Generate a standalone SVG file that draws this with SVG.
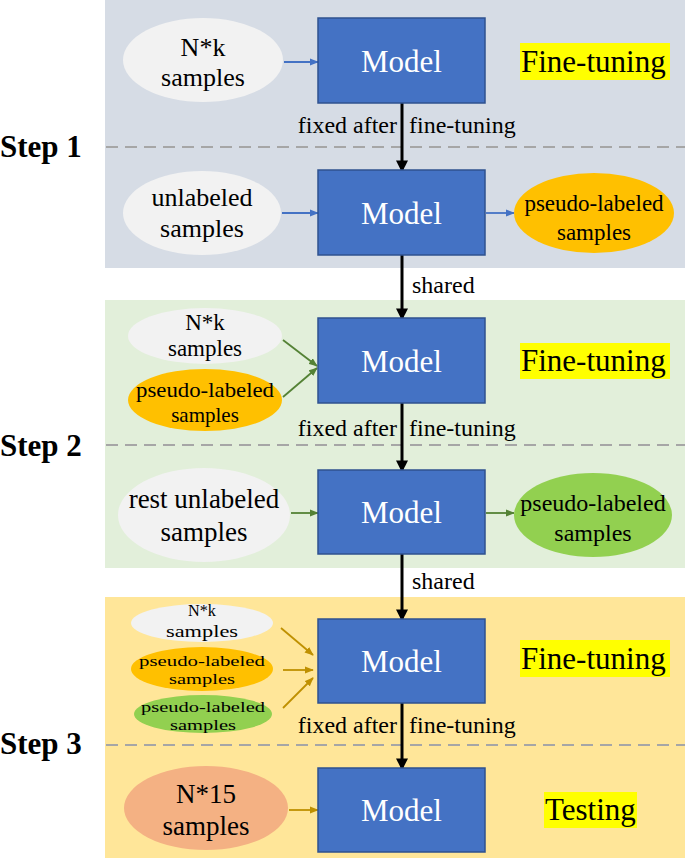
<svg xmlns="http://www.w3.org/2000/svg" width="685" height="859" viewBox="0 0 685 859">
<defs>
<style>
text{font-family:"Liberation Serif","Times New Roman",serif;}
.model{fill:#4472c4;stroke:#2f528f;stroke-width:1.5;}
.mt{fill:#fff;font-size:31px;text-anchor:middle;}
.et{fill:#000;text-anchor:middle;}
.hl{fill:#ffff00;}
.ht{font-size:31px;fill:#000;}
.step{font-size:31px;font-weight:bold;fill:#000;}
.dash{stroke:#a6a6a6;stroke-width:2;stroke-dasharray:12 7;}
.lbl{font-size:24px;fill:#000;}
.blk{stroke:#000;stroke-width:3;fill:none;marker-end:url(#ab);}
.blue{stroke:#4472c4;stroke-width:1.8;fill:none;marker-end:url(#abl);}
.grn{stroke:#548235;stroke-width:1.8;fill:none;marker-end:url(#agr);}
.gold{stroke:#bf9000;stroke-width:1.8;fill:none;marker-end:url(#ago);}
</style>
<marker id="ab" markerWidth="4" markerHeight="4" refX="3.2" refY="2" orient="auto" markerUnits="strokeWidth"><path d="M0,0 L4,2 L0,4 Z" fill="#000"/></marker>
<marker id="abl" markerWidth="5" markerHeight="4" refX="4.5" refY="2" orient="auto" markerUnits="strokeWidth"><path d="M0,0 L5,2 L0,4 Z" fill="#4472c4"/></marker>
<marker id="agr" markerWidth="5" markerHeight="4" refX="4.5" refY="2" orient="auto" markerUnits="strokeWidth"><path d="M0,0 L5,2 L0,4 Z" fill="#548235"/></marker>
<marker id="ago" markerWidth="5" markerHeight="4" refX="4.5" refY="2" orient="auto" markerUnits="strokeWidth"><path d="M0,0 L5,2 L0,4 Z" fill="#bf9000"/></marker>
</defs>
<rect width="685" height="859" fill="#fff"/>
<g id="panels">
<rect x="105" y="0" width="580" height="268" fill="#d6dce5"/>
<rect x="105" y="300" width="580" height="268" fill="#e2efda"/>
<rect x="105" y="597" width="580" height="261" fill="#ffe699"/>
</g>
<g id="dashes">
<line class="dash" x1="106" y1="147" x2="685" y2="147"/>
<line class="dash" x1="106" y1="445" x2="685" y2="445"/>
<line class="dash" x1="106" y1="745" x2="685" y2="745"/>
</g>
<g id="steps">
<text class="step" x="0" y="157">Step 1</text>
<text class="step" x="0" y="456">Step 2</text>
<text class="step" x="0" y="754">Step 3</text>
</g>
<g id="connectors">
<line class="blk" x1="402" y1="103" x2="402" y2="170"/>
<line class="blk" x1="402" y1="255" x2="402" y2="318"/>
<line class="blk" x1="402" y1="403" x2="402" y2="470"/>
<line class="blk" x1="402" y1="554" x2="402" y2="619"/>
<line class="blk" x1="402" y1="703" x2="402" y2="768"/>
<line class="blue" x1="284" y1="62" x2="318" y2="62"/>
<line class="blue" x1="282" y1="213" x2="318" y2="213"/>
<line class="blue" x1="486" y1="213" x2="514" y2="213"/>
<line class="grn" x1="283" y1="340" x2="317" y2="366"/>
<line class="grn" x1="283" y1="397" x2="317" y2="368"/>
<line class="grn" x1="291" y1="513" x2="318" y2="513"/>
<line class="grn" x1="486" y1="513" x2="514" y2="513"/>
<line class="gold" x1="281" y1="628" x2="313" y2="655"/>
<line class="gold" x1="283" y1="670" x2="313" y2="670"/>
<line class="gold" x1="283" y1="708" x2="313" y2="678"/>
<line class="gold" x1="289" y1="810" x2="318" y2="810"/>
</g>
<g id="connector-labels">
<text class="lbl" x="397" y="133" text-anchor="end">fixed after</text>
<text class="lbl" x="409" y="133">fine-tuning</text>
<text class="lbl" x="412" y="293">shared</text>
<text class="lbl" x="397" y="436" text-anchor="end">fixed after</text>
<text class="lbl" x="409" y="436">fine-tuning</text>
<text class="lbl" x="412" y="589">shared</text>
<text class="lbl" x="397" y="733" text-anchor="end">fixed after</text>
<text class="lbl" x="409" y="733">fine-tuning</text>
</g>
<g id="s1-nk"><ellipse cx="203" cy="60" rx="80" ry="42" fill="#f2f2f2"/><text class="et" x="203" y="56" font-size="26">N*k</text><text class="et" x="203" y="86" font-size="26">samples</text></g>
<g id="s1-model1"><rect class="model" x="318" y="18" width="167" height="85"/><text class="mt" x="401.5" y="72">Model</text></g>
<g id="s1-ft"><rect class="hl" x="520" y="43" width="150" height="37"/><text class="ht" x="521" y="72">Fine-tuning</text></g>
<g id="s1-unl"><ellipse cx="202" cy="213" rx="79" ry="42" fill="#f2f2f2"/><text class="et" x="202" y="206" font-size="26">unlabeled</text><text class="et" x="202" y="237" font-size="26">samples</text></g>
<g id="s1-model2"><rect class="model" x="318" y="170" width="167" height="85"/><text class="mt" x="401.5" y="224">Model</text></g>
<g id="s1-pl"><ellipse cx="594" cy="213" rx="80" ry="40" fill="#ffc000"/><text class="et" x="594" y="211" font-size="23">pseudo-labeled</text><text class="et" x="594" y="240" font-size="23">samples</text></g>
<g id="s2-nk"><ellipse cx="205" cy="336" rx="77" ry="28" fill="#f2f2f2"/><text class="et" x="205" y="330" font-size="23">N*k</text><text class="et" x="205" y="356" font-size="23">samples</text></g>
<g id="s2-pl"><ellipse cx="205" cy="400" rx="77" ry="31" fill="#ffc000"/><text class="et" x="205" y="397" font-size="21" textLength="138" lengthAdjust="spacingAndGlyphs">pseudo-labeled</text><text class="et" x="205" y="422" font-size="21">samples</text></g>
<g id="s2-model1"><rect class="model" x="318" y="318" width="167" height="85"/><text class="mt" x="401.5" y="372">Model</text></g>
<g id="s2-ft"><rect class="hl" x="520" y="343" width="150" height="36"/><text class="ht" x="521" y="371">Fine-tuning</text></g>
<g id="s2-rest"><ellipse cx="204" cy="515" rx="86" ry="47" fill="#f2f2f2"/><text class="et" x="204" y="508" font-size="27">rest unlabeled</text><text class="et" x="204" y="541" font-size="27">samples</text></g>
<g id="s2-model2"><rect class="model" x="318" y="470" width="167" height="84"/><text class="mt" x="401.5" y="523">Model</text></g>
<g id="s2-gpl"><ellipse cx="593" cy="515" rx="79" ry="42" fill="#92d050"/><text class="et" x="593" y="511" font-size="24">pseudo-labeled</text><text class="et" x="593" y="541" font-size="24">samples</text></g>
<g id="s3-nk"><ellipse cx="202" cy="623" rx="71" ry="19" fill="#f2f2f2"/><text class="et" x="202" y="616" font-size="16" textLength="28" lengthAdjust="spacingAndGlyphs">N*k</text><text class="et" x="202" y="637" font-size="16" textLength="72" lengthAdjust="spacingAndGlyphs">samples</text></g>
<g id="s3-pl"><ellipse cx="202" cy="669" rx="71" ry="22" fill="#ffc000"/><text class="et" x="202" y="666" font-size="15" textLength="126" lengthAdjust="spacingAndGlyphs">pseudo-labeled</text><text class="et" x="202" y="684" font-size="15" textLength="66" lengthAdjust="spacingAndGlyphs">samples</text></g>
<g id="s3-gpl"><ellipse cx="203" cy="714" rx="69" ry="19" fill="#92d050"/><text class="et" x="203" y="712" font-size="15" textLength="124" lengthAdjust="spacingAndGlyphs">pseudo-labeled</text><text class="et" x="203" y="730" font-size="15" textLength="66" lengthAdjust="spacingAndGlyphs">samples</text></g>
<g id="s3-model1"><rect class="model" x="318" y="619" width="167" height="84"/><text class="mt" x="401.5" y="672">Model</text></g>
<g id="s3-ft"><rect class="hl" x="520" y="640" width="150" height="37"/><text class="ht" x="521" y="669">Fine-tuning</text></g>
<g id="s3-n15"><ellipse cx="206" cy="808" rx="82" ry="42" fill="#f4b183"/><text class="et" x="206" y="803" font-size="27">N*15</text><text class="et" x="206" y="835" font-size="27">samples</text></g>
<g id="s3-model2"><rect class="model" x="318" y="768" width="167" height="84"/><text class="mt" x="401.5" y="821">Model</text></g>
<g id="s3-test"><rect class="hl" x="544" y="792" width="93" height="36"/><text class="ht" x="545" y="820">Testing</text></g>
</svg>
